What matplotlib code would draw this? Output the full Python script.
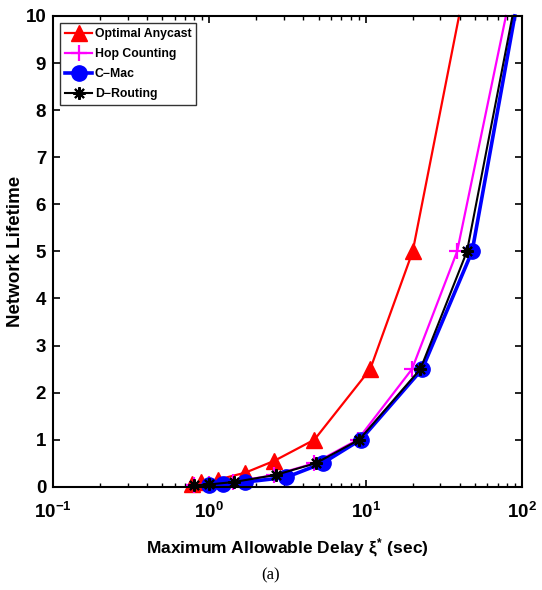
import matplotlib
matplotlib.use("Agg")
from matplotlib import pyplot as plt
from matplotlib.ticker import FixedLocator, LogLocator, NullFormatter

plt.rcParams["font.family"] = ["Liberation Sans", "DejaVu Sans"]
plt.rcParams["mathtext.fontset"] = "custom"
plt.rcParams["mathtext.rm"] = "Liberation Sans:bold"
plt.rcParams["mathtext.it"] = "Liberation Sans:bold"
plt.rcParams["mathtext.bf"] = "Liberation Sans:bold"

# delay (sec) vs network lifetime
# (last point of each curve is where it leaves the top of the plot)
anycast_x = [0.77, 0.89, 1.13, 1.7, 2.6, 4.7, 10.7, 20, 39.6]
anycast_y = [0.05, 0.1, 0.15, 0.3, 0.55, 1, 2.5, 5, 10]
hop_x = [0.8, 1.0, 1.42, 2.6, 4.7, 8.9, 19.8, 38.5, 79]
hop_y = [0.03, 0.05, 0.1, 0.25, 0.5, 1, 2.5, 5, 10]
cmac_x = [1.0, 1.23, 1.7, 3.1, 5.3, 9.3, 23, 48, 90]
cmac_y = [0.03, 0.05, 0.1, 0.2, 0.5, 1, 2.5, 5, 10]
drout_x = [0.8, 1.0, 1.43, 2.65, 4.8, 9.1, 22.4, 44.5, 87]
drout_y = [0.03, 0.05, 0.1, 0.25, 0.5, 1, 2.5, 5, 10]

yticks = list(range(0, 11))
xticks = [0.1, 1, 10, 100]
xticklabels = [r"$10^{-1}$", r"$10^{0}$", r"$10^{1}$", r"$10^{2}$"]

fig = plt.figure(figsize=(5.42, 5.9), dpi=100)
ax = fig.add_axes([0.098, 0.175, 0.865, 0.798])

mk = slice(0, -1)
ax.plot(anycast_x, anycast_y, "-^", color="red", lw=1.6, ms=11, markevery=mk,
        label="Optimal Anycast", clip_on=False)
ax.plot(hop_x, hop_y, "-+", color="magenta", lw=1.6, ms=11, mew=1.6, markevery=mk,
        label="Hop Counting", clip_on=False)
ax.plot(cmac_x, cmac_y, "-o", color="blue", lw=2.6, ms=11, markevery=mk,
        label="C\u2212Mac", clip_on=False)
ax.plot(drout_x, drout_y, "-", marker=(8, 2, 0), color="black", lw=1.5, ms=9, mew=1.5,
        markevery=mk, label="D\u2212Routing", clip_on=False)

ax.set_xscale("log")
ax.set_xlim(0.1, 100)
ax.set_ylim(0, 10)
ax.set_xticks(xticks)
ax.set_xticklabels(xticklabels)
ax.xaxis.set_minor_locator(LogLocator(base=10, subs=range(2, 10)))
ax.xaxis.set_minor_formatter(NullFormatter())
ax.yaxis.set_major_locator(FixedLocator(yticks))

ax.tick_params(which="both", direction="in", top=True, right=True, labelsize=13.5)
ax.tick_params(which="major", length=5, width=1.2)
ax.tick_params(which="minor", length=3, width=1)
for lbl in ax.get_yticklabels():
    lbl.set_fontweight("bold")
ax.tick_params(axis="x", pad=11)
ax.tick_params(axis="y", pad=5)
for s in ax.spines.values():
    s.set_linewidth(1.5)

ax.set_ylabel("Network Lifetime", fontsize=13.5, fontweight="bold", labelpad=1)
ax.set_xlabel(r"Maximum Allowable Delay $\xi^{*}$ (sec)", fontsize=12.5,
              fontweight="bold", labelpad=10)

leg = ax.legend(loc="upper left", prop={"weight": "bold", "size": 8.8},
                fancybox=False, edgecolor="black", handlelength=2.2, handletextpad=0.2,
                borderpad=0.4, labelspacing=0.65, borderaxespad=0.6)
leg.get_frame().set_linewidth(1)

fig.text(0.5, 0.018, "(a)", ha="center", fontsize=12, family="Liberation Serif")

fig.savefig("out.png", dpi=100)
